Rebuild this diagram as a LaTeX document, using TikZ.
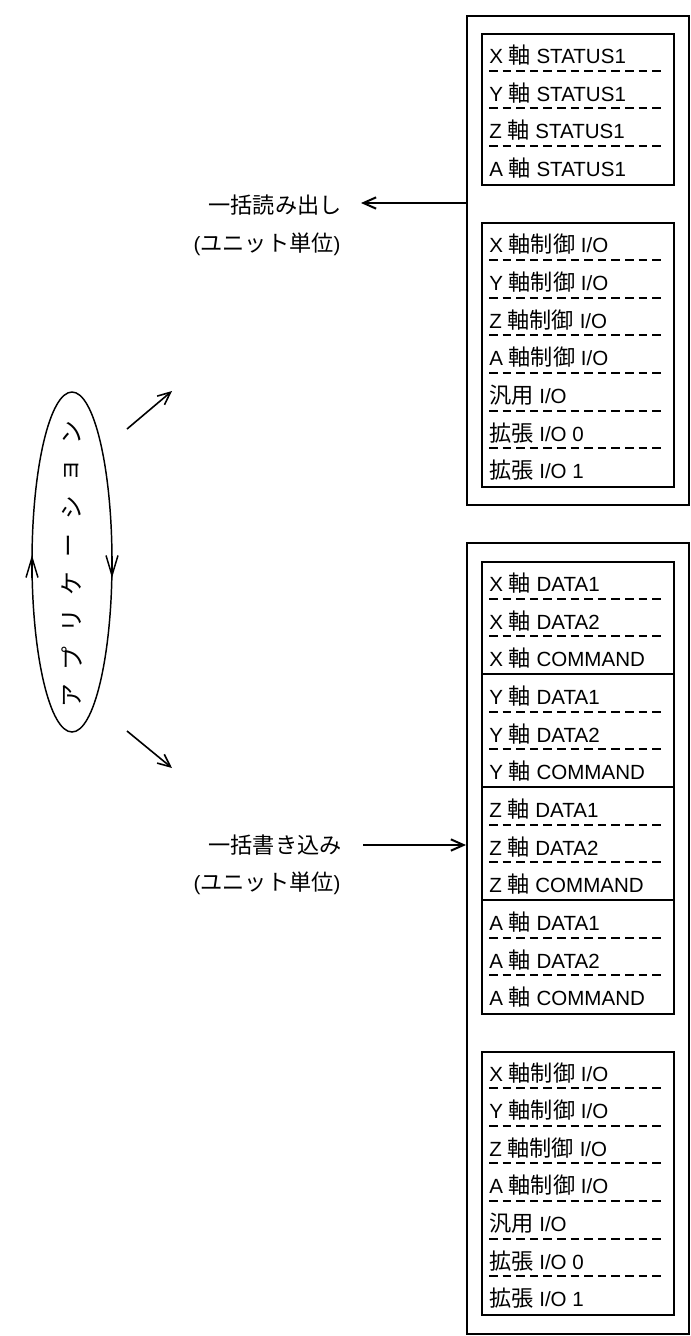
\documentclass[tikz,border=0pt]{standalone}
\usepackage{fontspec}
\setmainfont{Liberation Sans}
\newfontfamily\jp{Noto Sans CJK JP}[Scale=1.08]
\usetikzlibrary{arrows.meta,shapes.geometric}
\newcommand\J[1]{{\jp #1}}

% one stack of registers: name, top y, number of rows, rows per solid group, labels
\newcommand\regstack[5]{%
  \node[inner, anchor=north west, minimum height={#3*37.65*0.75pt}] (#1) at (481,#2) {};
  \foreach \t [count=\i from 0] in {#5} {
    \node[rowtext] (#1-\i) at (489,{#2+\i*37.65+30.5}) {\t};
    \ifnum\i>0
      \pgfmathtruncatemacro\r{mod(\i,#4)}
      \ifnum\r=0
        \draw[frameline] (481,{#2+\i*37.65}) -- (673,{#2+\i*37.65});
      \else
        \draw[sepline] (489,{#2+\i*37.65}) -- (665,{#2+\i*37.65});
      \fi
    \fi
  }%
}

\begin{document}
\begin{tikzpicture}[x=0.75pt,y=-0.75pt,
  font=\fontsize{15.4pt}{18pt}\selectfont,
  frameline/.style={line width=1.5pt},
  sepline/.style={line width=1.5pt, dash pattern=on 6.4pt off 3.8pt},
  outer/.style={draw, line width=1.5pt, inner sep=0pt, minimum width=166.5pt},
  inner/.style={draw, line width=1.5pt, inner sep=0pt, minimum width=144pt},
  rowtext/.style={anchor=base west, inner sep=0pt},
  barb/.style={line width=1.5pt, -{Straight Barb[length=9.5pt,width=8.5pt]}},
  thinbarb/.style={line width=1.2pt, -{Straight Barb[length=9.5pt,width=8.5pt]}},
  loopbarb/.style={line width=1.1pt, -{Straight Barb[length=15pt,width=9pt]}},
  label/.style={inner sep=0pt, font=\fontsize{15.4pt}{18pt}\selectfont}
]
\useasboundingbox (0,0) rectangle (691,1336);

% application loop
\node[draw, ellipse, line width=1.1pt, inner sep=0pt,
      minimum width=60pt, minimum height=255pt] (app) at (72,562) {};
\foreach \c [count=\i from 0] in {ア,プ,リ,ケ,ー,シ,ョ,ン}
  \node[rotate=90, inner sep=0pt, font=\jp\fontsize{16.5pt}{18pt}\selectfont]
    (ch\i) at (72,{696-\i*37.6}) {\c};
\coordinate (upl) at (32,578);
\coordinate (upt) at (32,555);
\coordinate (dnl) at (112,556);
\coordinate (dnt) at (112,578);
\draw[loopbarb] (upl) -- (upt);
\draw[loopbarb] (dnl) -- (dnt);

% outgoing arrows from the loop
\coordinate (a1) at (127,429);
\coordinate (a2) at (172,391);
\coordinate (b1) at (127,731);
\coordinate (b2) at (172,768);
\draw[thinbarb] (a1) -- (a2);
\draw[thinbarb] (b1) -- (b2);

% read side
\node[outer, anchor=north west, minimum height=366.75pt] (rdbox) at (466,15) {};
\regstack{st}{33}{4}{4}{X \J{軸} STATUS1,Y \J{軸} STATUS1,Z \J{軸} STATUS1,A \J{軸} STATUS1}
\regstack{rio}{222.3}{7}{7}{X \J{軸制御} I/O,Y \J{軸制御} I/O,Z \J{軸制御} I/O,A \J{軸制御} I/O,\J{汎用} I/O,\J{拡張} I/O 0,\J{拡張} I/O 1}

\node[label] (rdlbl) at (275,205) {\J{一括読み出し}};
\node[label] (rdunit) at (267,244) {(\J{ユニット単位})};
\coordinate (rdtip) at (361,203);
\draw[barb] (rdtip -| rdbox.west) -- (rdtip);

% write side
\node[outer, anchor=north west, minimum height=593.25pt] (wrbox) at (466,542) {};
\regstack{dt}{561}{12}{3}{X \J{軸} DATA1,X \J{軸} DATA2,X \J{軸} COMMAND,Y \J{軸} DATA1,Y \J{軸} DATA2,Y \J{軸} COMMAND,Z \J{軸} DATA1,Z \J{軸} DATA2,Z \J{軸} COMMAND,A \J{軸} DATA1,A \J{軸} DATA2,A \J{軸} COMMAND}
\regstack{wio}{1050.5}{7}{7}{X \J{軸制御} I/O,Y \J{軸制御} I/O,Z \J{軸制御} I/O,A \J{軸制御} I/O,\J{汎用} I/O,\J{拡張} I/O 0,\J{拡張} I/O 1}

\node[label] (wrlbl) at (275,845) {\J{一括書き込み}};
\node[label] (wrunit) at (267,883) {(\J{ユニット単位})};
\coordinate (wrtail) at (363,845);
\draw[barb] (wrtail) -- (wrtail -| wrbox.west);
\end{tikzpicture}
\end{document}
